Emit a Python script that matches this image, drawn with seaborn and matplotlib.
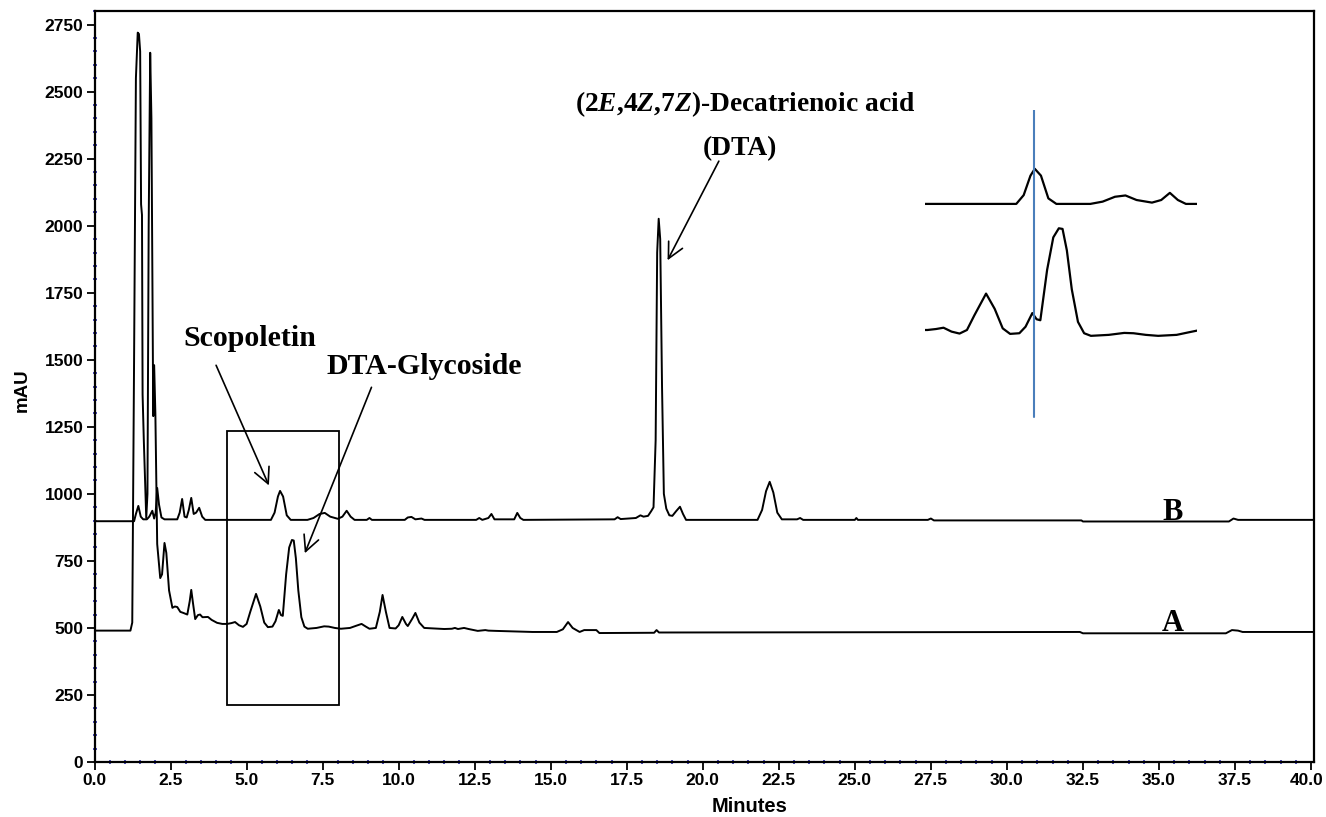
"""HPLC chromatogram of two extracts (A and B) with a zoomed inset."""
import matplotlib
matplotlib.use("Agg")
import matplotlib.pyplot as plt
from matplotlib.patches import Rectangle
from matplotlib.ticker import MultipleLocator
from matplotlib.transforms import ScaledTranslation
import seaborn as sns

# trace A (lower): minutes / mAU
time_a = [0.0, 1.18, 1.24, 1.30, 1.36, 1.42, 1.46, 1.50, 1.53, 1.56, 1.58, 1.62,
          1.70, 1.74, 1.78, 1.83, 1.87, 1.93, 1.96, 2.00, 2.06, 2.16, 2.22, 2.30,
          2.36, 2.45, 2.56, 2.64, 2.72, 2.82, 2.92, 3.05, 3.13, 3.18, 3.24, 3.31,
          3.40, 3.47, 3.55, 3.73, 3.85, 4.03, 4.20, 4.36, 4.50, 4.62, 4.75, 4.88,
          5.00, 5.12, 5.31, 5.45, 5.58, 5.70, 5.85, 5.95, 6.06, 6.13, 6.19, 6.30,
          6.40, 6.49, 6.55, 6.62, 6.70, 6.80, 6.90, 7.01, 7.30, 7.55, 7.70, 7.90,
          8.10, 8.40, 8.60, 8.78, 8.92, 9.04, 9.25, 9.38, 9.47, 9.58, 9.70, 9.90,
          10.00, 10.12, 10.24, 10.30, 10.45, 10.55, 10.68, 10.84, 11.50, 11.75,
          11.85, 11.95, 12.15, 12.30, 12.60, 12.85, 12.95, 13.20, 14.40, 15.20,
          15.40, 15.57, 15.72, 15.95, 16.10, 16.50, 16.60, 18.40, 18.48, 18.56,
          32.40, 32.50, 37.20, 37.40, 37.60, 37.75, 40.15]
mau_a = [490, 490, 520, 1500, 2550, 2720, 2715, 2650, 2080, 2040, 1370, 1200,
         910, 1000, 2000, 2645, 2400, 1290, 1480, 1300, 813, 686, 700, 817,
         780, 640, 575, 580, 578, 560, 556, 550, 600, 642, 590, 533,
         548, 550, 540, 541, 530, 519, 515, 515, 518, 522, 510, 504,
         515, 560, 627, 580, 520, 503, 505, 525, 567, 548, 545, 700,
         800, 828, 826, 760, 640, 540, 505, 497, 500, 506, 505, 500,
         497, 500, 508, 515, 505, 497, 500, 560, 623, 560, 500, 498,
         510, 541, 515, 507, 535, 556, 520, 500, 496, 497,
         500, 496, 500, 496, 489, 492, 490, 489, 485, 485,
         495, 522, 500, 485, 492, 492, 481, 482, 492, 483,
         485, 480, 480, 492, 490, 485, 485]

# trace B (upper)
time_b = [0.0, 1.30, 1.36, 1.44, 1.52, 1.60, 1.72, 1.80, 1.90, 1.96, 2.01, 2.06,
          2.12, 2.20, 2.30, 2.72, 2.80, 2.88, 2.96, 3.03, 3.10, 3.18, 3.26, 3.34,
          3.44, 3.54, 3.64, 5.80, 5.92, 6.03, 6.10, 6.20, 6.32, 6.45, 7.00, 7.20,
          7.40, 7.57, 7.75, 8.00, 8.15, 8.29, 8.42, 8.55, 8.95, 9.04, 9.12, 10.20,
          10.30, 10.42, 10.55, 10.75, 10.85, 12.55, 12.65, 12.75, 12.95, 13.05,
          13.15, 13.80, 13.90, 14.00, 14.10, 17.10, 17.20, 17.30, 17.80, 17.95,
          18.05, 18.20, 18.30, 18.38, 18.45, 18.50, 18.55, 18.60, 18.66, 18.72,
          18.80, 18.90, 19.00, 19.12, 19.25, 19.35, 19.45, 21.80, 21.95, 22.08,
          22.20, 22.32, 22.45, 22.60, 23.10, 23.20, 23.30, 25.00, 25.05, 25.10,
          27.40, 27.50, 27.60, 32.45, 32.50, 37.30, 37.45, 37.60, 40.15]
mau_b = [898, 898, 925, 955, 915, 905, 905, 915, 937, 908, 930, 1022,
         960, 912, 905, 905, 930, 981, 915, 912, 940, 985, 925, 930,
         948, 915, 903, 903, 930, 990, 1011, 990, 920, 903, 903, 910,
         925, 929, 915, 907, 915, 937, 915, 903, 903, 910, 903, 903,
         912, 914, 905, 908, 903, 903, 910, 903, 910, 925,
         905, 905, 929, 910, 903, 905, 913, 906, 910, 920,
         915, 918, 935, 950, 1200, 1900, 2026, 1950, 1400, 1000,
         945, 920, 918, 935, 952, 925, 903, 903, 940, 1010,
         1045, 1005, 930, 905, 905, 910, 903, 903, 910, 903,
         903, 908, 901, 901, 897, 897, 908, 903, 903]

x_ticks = [i * 2.5 for i in range(17)]
x_tick_labels = ["%.1f" % t for t in x_ticks]
y_ticks = list(range(0, 2751, 250))

# boxed region (minutes, mAU) and the inset window
box_t = (4.35, 8.03)
box_mau = (211, 1235)
inset_t = (4.32, 8.73)
inset_mau = (238, 1192)
marker_t = 6.08

sns.set_style("white")
plt.rcParams["font.family"] = ["Liberation Sans", "DejaVu Sans"]
plt.rcParams["font.weight"] = "bold"
plt.rcParams["text.color"] = "black"
plt.rcParams["axes.labelcolor"] = "black"
plt.rcParams["xtick.color"] = "black"
plt.rcParams["ytick.color"] = "black"
plt.rcParams["mathtext.fontset"] = "custom"
plt.rcParams["mathtext.rm"] = "Liberation Serif:bold"
plt.rcParams["mathtext.bf"] = "Liberation Serif:bold"
plt.rcParams["mathtext.it"] = "Liberation Serif:italic:bold"

fig = plt.figure(figsize=(13.26, 8.17), dpi=100)
ax = fig.add_axes([0.0713, 0.0673, 0.9197, 0.919])

for t, v in [(time_a, mau_a), (time_b, mau_b)]:
    sns.lineplot(x=t, y=v, ax=ax, color="black", lw=1.4, estimator=None, sort=False)

ax.set_xlim(0, 40.1)
ax.set_ylim(0, 2800)
ax.set_xticks(x_ticks)
ax.set_xticklabels(x_tick_labels)
ax.set_yticks(y_ticks)
ax.xaxis.set_minor_locator(MultipleLocator(0.5))
ax.yaxis.set_minor_locator(MultipleLocator(50))
ax.tick_params(which="both", bottom=True, left=True, top=False, right=False)
ax.tick_params(which="major", direction="out", length=6, width=1.3,
               labelsize=12.5, pad=2, color="black", labelcolor="black")
ax.tick_params(which="minor", direction="inout", length=3, width=1.2,
               color="#2a2ab0")
for lab in ax.get_xticklabels() + ax.get_yticklabels():
    lab.set_fontweight("bold")
# keep the last x label inside the canvas
last = ax.get_xticklabels()[-1]
last.set_transform(last.get_transform() + ScaledTranslation(-4 / 100, 0, fig.dpi_scale_trans))
for s in ax.spines.values():
    s.set_linewidth(1.6)
    s.set_color("black")

fig.text(750 / 1326, 1 - 806 / 817, "Minutes", ha="center", va="center",
         fontsize=14.5, fontweight="bold")
fig.text(22 / 1326, 1 - 390 / 817, "mAU", ha="center", va="center",
         rotation=90, fontsize=13.5, fontweight="bold")

ax.add_patch(Rectangle((box_t[0], box_mau[0]), box_t[1] - box_t[0],
                       box_mau[1] - box_mau[0], fill=False, lw=1.3,
                       color="black"))

serif = dict(family="Liberation Serif", fontweight="bold", fontsize=21.5)
arrow = dict(arrowstyle="->", lw=1.2, color="black", mutation_scale=28)

ax.text(5.1, 1578, "Scopoletin", ha="center", va="center", **serif)
ax.annotate("", xy=(5.77, 1022), xytext=(3.96, 1489), arrowprops=arrow)
ax.text(10.84, 1474, "DTA-Glycoside", ha="center", va="center", **serif)
ax.annotate("", xy=(6.88, 769), xytext=(9.14, 1407), arrowprops=arrow)
ax.text(21.39, 2455, r"(2$\mathit{E}$,4$\mathit{Z}$,7$\mathit{Z}$)-Decatrienoic acid",
        ha="center", va="center", family="Liberation Serif", fontweight="bold",
        fontsize=19.8)
ax.text(21.23, 2287, "(DTA)", ha="center", va="center", family="Liberation Serif",
        fontweight="bold", fontsize=19.8)
ax.annotate("", xy=(18.8, 1862), xytext=(20.57, 2250), arrowprops=arrow)

ax.text(35.45, 904, "B", ha="center", va="baseline", family="Liberation Serif",
        fontweight="bold", fontsize=22)
ax.text(35.45, 487, "A", ha="center", va="baseline", family="Liberation Serif",
        fontweight="bold", fontsize=22)

# inset: magnified view of the boxed window
ins = fig.add_axes([925 / 1326, 1 - 420 / 817, 272 / 1326, 310 / 817])
for t, v in [(time_a, mau_a), (time_b, mau_b)]:
    sns.lineplot(x=t, y=v, ax=ins, color="black", lw=1.6, estimator=None, sort=False)
ins.set_xlim(*inset_t)
ins.set_ylim(*inset_mau)
ins.axvline(marker_t, ymin=0.01, ymax=1.0, color="#4a7ebb", lw=1.5)
ins.set_axis_off()

fig.savefig("out.png", dpi=100)
